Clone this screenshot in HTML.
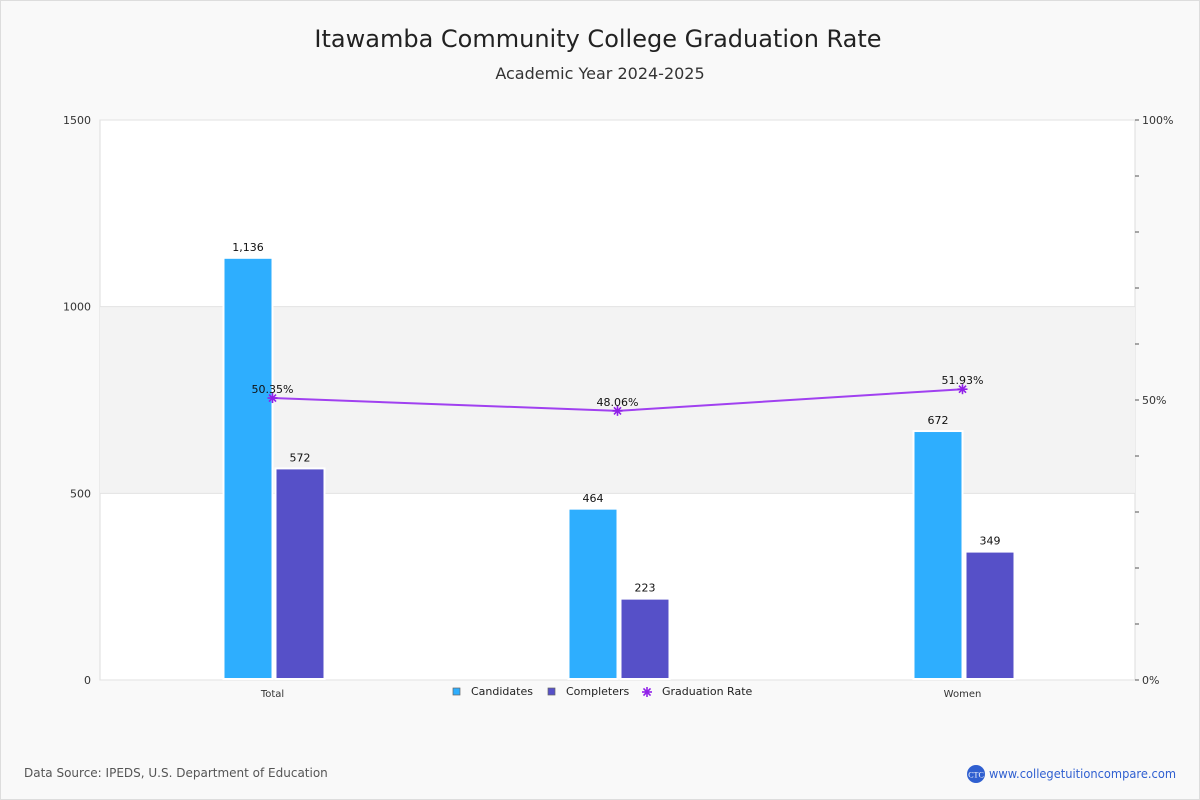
<!DOCTYPE html>
<html><head><meta charset="utf-8"><style>
body{margin:0;background:#fff;font-family:"DejaVu Sans","Liberation Sans",sans-serif}
#wrap{position:relative;width:1198px;height:798px;border:1px solid #ddd;background:#f9f9f9}
svg{position:absolute;left:-1px;top:-1px}
</style></head><body>
<div id="wrap">
<svg id="chart" width="1200" height="800">
<text x="598" y="47" text-anchor="middle" font-size="24" fill="#222">Itawamba Community College Graduation Rate</text>
<text x="600" y="79" text-anchor="middle" font-size="16" fill="#333">Academic Year 2024-2025</text>
<text x="24" y="777" font-size="12" fill="#555">Data Source: IPEDS, U.S. Department of Education</text>
<circle cx="976" cy="774" r="9" fill="#2f5fd0"/>
<text x="976" y="777.5" text-anchor="middle" font-size="8" fill="#fff" font-family="Liberation Serif,serif">CTC</text>
<text x="989" y="778" font-size="12" fill="#2f5fd0" textLength="187" lengthAdjust="spacingAndGlyphs">www.collegetuitioncompare.com</text>
</svg>
</div>
<script>
const categories=["Total","Men","Women"];
const candidates=[1136,464,672];
const completers=[572,223,349];
const rates=[50.35,48.06,51.93];
const leftTicks=[0,500,1000,1500];
const rightTicks=[0,50,100];
const ns="http://www.w3.org/2000/svg";
const svg=document.getElementById('chart');
const X0=100,X1=1135,Y0=680,Y1=120;
const y=v=>Y0-(v/1500)*(Y0-Y1);
const yr=p=>Y0-(p/100)*(Y0-Y1);
const gw=(X1-X0)/categories.length;
const cx=i=>X0+gw*(i+0.5);
function el(t,a,parent){const e=document.createElementNS(ns,t);for(const k in a)e.setAttribute(k,a[k]);(parent||svg).appendChild(e);return e;}
const plot=el('rect',{x:X0,y:Y1,width:X1-X0,height:Y0-Y1,fill:'#fff',stroke:'#ddd'});


const band=el('rect',{x:X0,y:y(1000),width:X1-X0,height:y(500)-y(1000),fill:'#f3f3f3'});


leftTicks.forEach(t=>{
  const l=el('line',{x1:X0,x2:X1,y1:y(t),y2:y(t),stroke:'#e2e2e2'});
  
  
  const tx=el('text',{x:91,y:y(t)+4,'text-anchor':'end','font-size':11,fill:'#333'});tx.textContent=t;
  
  
});
for(let i=0;i<=10;i++){const l=el('line',{x1:X1,x2:X1+4,y1:yr(i*10),y2:yr(i*10),stroke:'#555'});
  
  }
rightTicks.forEach(t=>{
  const tx=el('text',{x:1142,y:yr(t)+4,'font-size':11,fill:'#333'});tx.textContent=t+'%';
  
  
});
const bw=47;
categories.forEach((c,i)=>{
  const m=cx(i);
  [[candidates[i],'#2eaefe',m-48],[completers[i],'#5650c8',m+4]].forEach(([v,col,bx],j)=>{
    const top=y(v)+3;
    const r=el('rect',{x:bx,y:top,width:bw,height:Y0-top-2,fill:col,stroke:'#fff','stroke-width':4,'paint-order':'stroke'});
    
    
    const r2=el('rect',{x:bx,y:top,width:bw,height:Y0-top-2,fill:col});
    
    
    const t=el('text',{x:bx+bw/2,y:top-8,'text-anchor':'middle','font-size':11,fill:'#111'});t.textContent=v.toLocaleString('en-US');
    
    
  });
  const lab=el('text',{x:m,y:697,'text-anchor':'middle','font-size':10,fill:'#333'});lab.textContent=c;
  
  
});
const pl=el('polyline',{points:rates.map((r,i)=>cx(i)+','+yr(r)).join(' '),fill:'none',stroke:'#a040f0','stroke-width':2});


function star(px,py,g){for(let a=0;a<4;a++){const an=a*Math.PI/4;el('line',{x1:px-5*Math.cos(an),y1:py-5*Math.sin(an),x2:px+5*Math.cos(an),y2:py+5*Math.sin(an),stroke:'#9020e8','stroke-width':1.6},g);}}
rates.forEach((r,i)=>{
  const g=el('g',{});
  
  
  star(cx(i),yr(r),g);
  const t=el('text',{x:cx(i),y:yr(r)-5,'text-anchor':'middle','font-size':11,fill:'#111'});t.textContent=r.toFixed(2)+'%';
  
  
});
const lg=el('g',{});


el('rect',{x:446,y:681,width:310,height:24,fill:'#f9f9f9'},lg);
const e1=el('rect',{x:453,y:688,width:7,height:7,fill:'#2eaefe',stroke:'#666','stroke-width':0.7},lg);


const e2=el('rect',{x:548,y:688,width:7,height:7,fill:'#5650c8',stroke:'#666','stroke-width':0.7},lg);


const sg=el('g',{},lg);


star(647,692,sg);
[['Candidates',471],['Completers',566],['Graduation Rate',662]].forEach(([s,x])=>{const t=el('text',{x:x,y:695,'font-size':11,fill:'#222'},lg);t.textContent=s;
  
  });
</script>
</body></html>
